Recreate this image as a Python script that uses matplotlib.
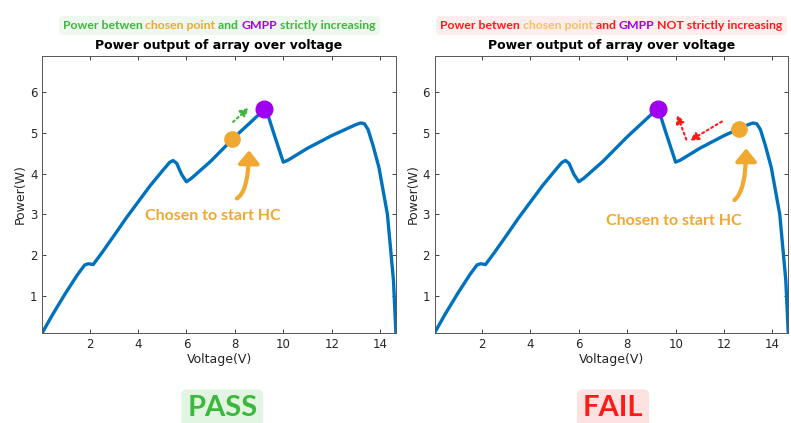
import numpy as np
import matplotlib
matplotlib.use('Agg')
import matplotlib.pyplot as plt
from matplotlib.patches import FancyArrowPatch
from matplotlib.path import Path
from matplotlib.offsetbox import TextArea, HPacker, AnnotationBbox

# P-V curve of the array
voltage = [0.05, 0.5, 1.0, 1.5, 1.8, 1.95, 2.15, 2.5, 3.0, 3.5, 4.0, 4.5, 5.0, 5.3,
           5.45, 5.6, 5.8, 6.0, 6.2, 7.0, 8.0, 9.0, 9.2, 9.3, 9.6, 10.0, 10.2, 11.0,
           12.0, 13.0, 13.2, 13.35, 13.5, 13.7, 13.95, 14.3, 14.55, 14.65]
power = [0.1, 0.57, 1.06, 1.52, 1.76, 1.79, 1.77, 2.05, 2.47, 2.9, 3.3, 3.7, 4.06, 4.27,
         4.32, 4.25, 3.98, 3.8, 3.88, 4.3, 4.9, 5.45, 5.56, 5.56, 5.0, 4.28, 4.33, 4.62,
         4.93, 5.2, 5.24, 5.22, 5.08, 4.7, 4.15, 3.0, 1.38, 0.1]

gmpp = [(9.2, 5.58), (9.28, 5.58)]
chosen = [(7.89, 4.84), (12.63, 5.09)]
verdicts = ['PASS', 'FAIL']

GREEN = '#3cb83c'
RED = '#ff1a1a'
ORANGE = '#f0a830'
PURPLE = '#a000f0'
BLUE = '#0072BD'
FONT = 'Lato'

headers = [
    [('Power betwen ', GREEN), ('chosen point', ORANGE), (' and ', GREEN),
     ('GMPP', PURPLE), (' strictly increasing', GREEN)],
    [('Power betwen ', RED), ('chosen point', '#f5c060'), (' and ', RED),
     ('GMPP', PURPLE), (' NOT strictly increasing', RED)],
]
header_bg = ['#eef8ee', '#fdeeee']
verdict_col = [GREEN, RED]
verdict_bg = ['#e2f4e2', '#fde2e2']

fig = plt.figure(figsize=(7.91, 4.23), dpi=100)
axes = [fig.add_axes([0.0535, 0.2135, 0.447, 0.654]),
        fig.add_axes([0.5495, 0.2135, 0.447, 0.654])]

for i, ax in enumerate(axes):
    ax.plot(voltage, power, color=BLUE, lw=2.4, solid_capstyle='round', zorder=2)
    ax.plot(*chosen[i], 'o', ms=11, color=ORANGE, zorder=4)
    ax.plot(*gmpp[i], 'o', ms=12, color=PURPLE, zorder=4)
    ax.set_xlim(0.05, 14.65)
    ax.set_ylim(0.1, 6.88)
    ax.set_xticks(range(2, 15, 2))
    ax.set_yticks(range(1, 7))
    ax.tick_params(direction='in', top=True, right=True, labelsize=8.5,
                   colors='#262626', length=3, width=0.6)
    for s in ax.spines.values():
        s.set_color('#555555')
        s.set_linewidth(0.7)
    ax.set_xlabel('Voltage(V)', fontsize=9, color='#262626', labelpad=2)
    ax.set_ylabel('Power(W)', fontsize=9, color='#262626', labelpad=2)
    ax.set_title('Power output of array over voltage', fontsize=9, fontweight='bold', pad=5)

    # coloured header line
    areas = [TextArea(t, textprops=dict(color=c, fontsize=8.8, fontweight='bold',
                                        family=FONT)) for t, c in headers[i]]
    box = HPacker(children=areas, align='baseline', pad=0, sep=0)
    ab = AnnotationBbox(box, (0.5, 1.11), xycoords='axes fraction', frameon=True,
                        box_alignment=(0.5, 0.5), annotation_clip=False,
                        bboxprops=dict(boxstyle='round,pad=0.3', fc=header_bg[i], ec='none'))
    ax.add_artist(ab)

    # verdict
    fig.text([0.281, 0.775][i], 0.035, verdicts[i], color=verdict_col[i], fontsize=21,
             fontweight='bold', family=FONT, ha='center', va='center',
             bbox=dict(boxstyle='round,pad=0.2', fc=verdict_bg[i], ec='none'))


def curved_arrow(ax, tail, ctrl, head):
    path = Path([tail, ctrl, head], [Path.MOVETO, Path.CURVE3, Path.CURVE3])
    ax.add_patch(FancyArrowPatch(path=path, arrowstyle='-|>,head_width=0.45,head_length=0.55',
                                 mutation_scale=14, color=ORANGE, lw=3, zorder=3))


dotted = dict(arrowstyle='-|>,head_width=0.25,head_length=0.5', lw=1.5,
              linestyle=(0, (1, 1.5)))

# left panel annotations
ax = axes[0]
ax.annotate('', xy=(8.67, 5.66), xytext=(7.84, 5.22), arrowprops=dict(color=GREEN, **dotted))
curved_arrow(ax, (8.08, 3.39), (8.55, 3.54), (8.59, 4.57))
ax.text(7.1, 2.95, 'Chosen to start HC', color=ORANGE, fontsize=11.5, fontweight='bold',
        family=FONT, ha='center', va='center')

# right panel annotations
ax = axes[1]
ax.annotate('', xy=(10.48, 4.77), xytext=(12.01, 5.31), arrowprops=dict(color=RED, **dotted))
ax.annotate('', xy=(10.02, 5.51), xytext=(10.48, 4.77), arrowprops=dict(color=RED, **dotted))
curved_arrow(ax, (12.43, 3.35), (12.91, 3.59), (12.91, 4.62))
ax.text(9.93, 2.83, 'Chosen to start HC', color=ORANGE, fontsize=11.5, fontweight='bold',
        family=FONT, ha='center', va='center')

fig.savefig('out.png', dpi=100)
